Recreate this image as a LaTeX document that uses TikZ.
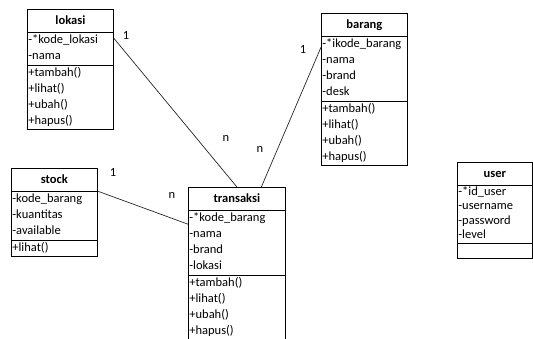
\documentclass[tikz,border=0pt]{standalone}
\usepackage{fontspec}
\setmainfont{Carlito}
\usetikzlibrary{shapes.multipart,calc}
\newcommand{\rows}[1]{\begin{tabular}{@{}l@{}}#1\end{tabular}}
\newcommand{\titlerow}[1]{\centering\textbf{#1}\rule[-7pt]{0pt}{22pt}\par}

\begin{document}
\begin{tikzpicture}[x=1pt, y=1pt, font=\fontsize{12.5}{16}\selectfont,
    classbox/.style={draw, rectangle split, rectangle split parts=3,
        rectangle split part align={center,left,left},
        inner xsep=1pt, inner ysep=0pt, anchor=north west, line width=0.8pt},
    assoc/.style={draw=black!85, line width=0.7pt},
    mult/.style={inner sep=0pt}]
    \useasboundingbox (0,0) rectangle (533,338);
    \node [classbox, text width=84pt] (lokasi) at (27,329)
        {\titlerow{lokasi}
         \nodepart{two}\rows{-*kode\_lokasi\\-nama}
         \nodepart{three}\rows{+tambah()\\+lihat()\\+ubah()\\+hapus()}};
    \node [classbox, text width=84pt] (barang) at (321,325)
        {\titlerow{barang}
         \nodepart{two}\rows{-*ikode\_barang\\-nama\\-brand\\-desk}
         \nodepart{three}\rows{+tambah()\\+lihat()\\+ubah()\\+hapus()}};
    \node [classbox, text width=84pt] (stock) at (11,170)
        {\titlerow{stock}
         \nodepart{two}\rows{-kode\_barang\\-kuantitas\\-available}
         \nodepart{three}\rows{+lihat()}};
    \node [classbox, text width=95pt] (transaksi) at (188,151)
        {\titlerow{transaksi}
         \nodepart{two}\rows{-*kode\_barang\\-nama\\-brand\\-lokasi}
         \nodepart{three}\rows{+tambah()\\+lihat()\\+ubah()\\+hapus()}};
    \node [classbox, text width=73pt, font=\fontsize{12.5}{14.25}\selectfont] (user) at (457,176)
        {\titlerow{user}
         \nodepart{two}\rows{-*id\_user\\-username\\-password\\-level}
         \nodepart{three}\rule{0pt}{15pt}};

    \draw [assoc] ($(lokasi.text split east)+(0,-6)$) -- (transaksi.north);
    \draw [assoc] ($(barang.text split west)+(0,-11)$)
        -- ($(transaksi.north)!0.5!(transaksi.north east)$);
    \draw [assoc] (stock.text split east) -- ($(transaksi.text split west)+(0,-14)$);

    \node [mult] (lokasi-one) at (126,303) {1};
    \node [mult] (lokasi-n) at (226,200) {n};
    \node [mult] (barang-one) at (303,289) {1};
    \node [mult] (barang-n) at (260,189) {n};
    \node [mult] (stock-one) at (113,166) {1};
    \node [mult] (stock-n) at (172,143) {n};
\end{tikzpicture}
\end{document}
